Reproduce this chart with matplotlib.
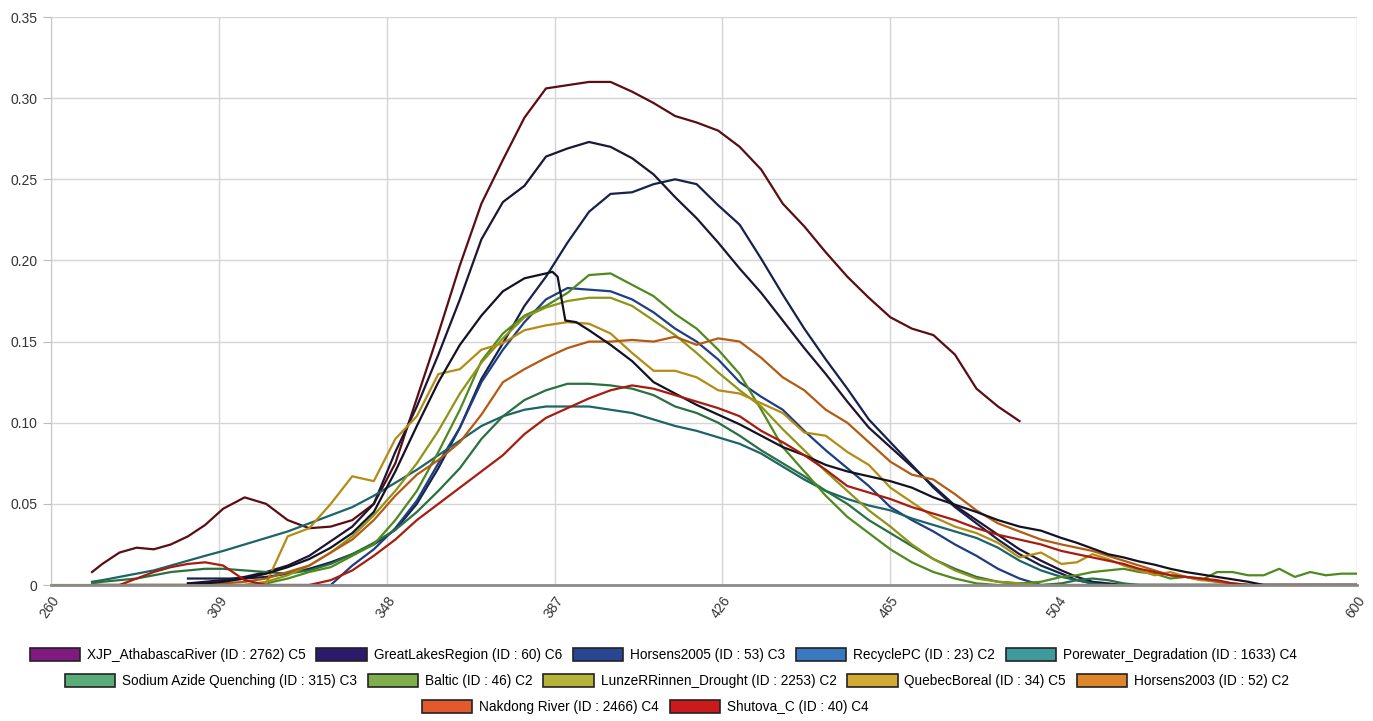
import numpy as np
import matplotlib
matplotlib.use("Agg")
import matplotlib.pyplot as plt
from matplotlib.patches import Patch

nan = np.nan

# wavelength grid shared by most series (nm)
wl = [260, 272] + list(range(275, 601, 5))

# x axis is categorical in the source: tick labels are not evenly spaced in nm
tick_nm = [260, 309, 348, 387, 426, 465, 504, 600]
tick_pos = [0, 1, 2, 3, 4, 5, 6, 7.78]

xjp = [nan, 0.008, 0.013, 0.020, 0.023, 0.022, 0.025, 0.030, 0.037, 0.047,
       0.054, 0.050, 0.040, 0.035, 0.036, 0.040, 0.050, 0.075, 0.115, 0.155,
       0.197, 0.235, 0.262, 0.288, 0.306, 0.308, 0.310, 0.310, 0.304, 0.297,
       0.289, 0.285, 0.280, 0.270, 0.256, 0.235, 0.221, 0.205, 0.190, 0.177,
       0.165, 0.158, 0.154, 0.142, 0.121, 0.110, 0.101] + [nan] * 21

great_lakes = [nan] * 7 + [
    0.001, 0.002, 0.003, 0.005, 0.008, 0.012, 0.018, 0.027, 0.036, 0.050,
    0.082, 0.110, 0.142, 0.176, 0.213, 0.236, 0.246, 0.264, 0.269, 0.273,
    0.270, 0.263, 0.253, 0.239, 0.226, 0.211, 0.195, 0.180, 0.163, 0.146,
    0.130, 0.113, 0.097, 0.085, 0.073, 0.061, 0.049, 0.040, 0.031, 0.022,
    0.015, 0.009, 0.005, 0.002, 0.001] + [0] * 16

horsens2005 = [nan] * 7 + [
    0.004, 0.004, 0.004, 0.004, 0.005, 0.007, 0.010, 0.014, 0.019, 0.025,
    0.034, 0.050, 0.072, 0.097, 0.127, 0.149, 0.172, 0.190, 0.211, 0.230,
    0.241, 0.242, 0.247, 0.250, 0.247, 0.234, 0.222, 0.201, 0.179, 0.158,
    0.139, 0.121, 0.102, 0.088, 0.074, 0.060, 0.048, 0.038, 0.028, 0.019,
    0.012, 0.007, 0.003, 0.001] + [0] * 17

recycle = [nan] + [0] * 13 + [
    0.000, 0.012, 0.022, 0.035, 0.052, 0.075, 0.097, 0.125, 0.145, 0.162,
    0.176, 0.183, 0.182, 0.181, 0.176, 0.168, 0.158, 0.150, 0.139, 0.125,
    0.116, 0.108, 0.095, 0.083, 0.072, 0.061, 0.048, 0.040, 0.033, 0.025,
    0.018, 0.010, 0.004] + [0] * 21

porewater = [nan,
    0.002, 0.003, 0.005, 0.007, 0.009, 0.012, 0.015, 0.018, 0.021, 0.025,
    0.029, 0.033, 0.038, 0.043, 0.048, 0.055, 0.063, 0.071, 0.080, 0.089,
    0.098, 0.104, 0.108, 0.110, 0.110, 0.110, 0.108, 0.106, 0.102, 0.098,
    0.095, 0.091, 0.087, 0.081, 0.073, 0.065, 0.058, 0.053, 0.049, 0.046,
    0.041, 0.037, 0.033, 0.029, 0.023, 0.015, 0.009, 0.005, 0.003, 0.001] + [0] * 17

sodium = [nan,
    0.001, 0.002, 0.003, 0.004, 0.006, 0.008, 0.009, 0.010, 0.010, 0.009,
    0.008, 0.007, 0.009, 0.013, 0.019, 0.026, 0.034, 0.045, 0.058, 0.072,
    0.090, 0.104, 0.114, 0.120, 0.124, 0.124, 0.123, 0.121, 0.117, 0.110,
    0.106, 0.100, 0.092, 0.083, 0.075, 0.067, 0.058, 0.050, 0.040, 0.032,
    0.024, 0.016, 0.010, 0.005, 0.002, 0.001, 0.000, 0.001, 0.003, 0.004,
    0.003, 0.001] + [0] * 15

baltic = [nan] + [0] * 10 + [
    0.001, 0.004, 0.008, 0.011, 0.018, 0.025, 0.040, 0.058, 0.082, 0.108,
    0.138, 0.155, 0.166, 0.172, 0.180, 0.191, 0.192, 0.185, 0.178, 0.167,
    0.158, 0.145, 0.130, 0.108, 0.085, 0.070, 0.055, 0.042, 0.032, 0.022,
    0.014, 0.008, 0.004, 0.001, 0.000, 0.001, 0.002, 0.005, 0.006, 0.008,
    0.009, 0.010, 0.008, 0.007, 0.004, 0.005, 0.003, 0.008, 0.008, 0.006,
    0.006, 0.010, 0.005, 0.008, 0.006, 0.007, 0.007]

lunze = [nan] + [0] * 10 + [
    0.002, 0.006, 0.012, 0.020, 0.030, 0.043, 0.058, 0.075, 0.095, 0.118,
    0.137, 0.152, 0.165, 0.171, 0.175, 0.177, 0.177, 0.172, 0.163, 0.154,
    0.143, 0.131, 0.120, 0.110, 0.096, 0.083, 0.070, 0.058, 0.046, 0.036,
    0.025, 0.016, 0.009, 0.004, 0.002, 0.001] + [0] * 21

quebec = [0] * 11 + [
    0.001, 0.030, 0.035, 0.050, 0.067, 0.064, 0.090, 0.104, 0.130, 0.133,
    0.145, 0.149, 0.157, 0.160, 0.162, 0.161, 0.155, 0.143, 0.132, 0.132,
    0.128, 0.120, 0.118, 0.112, 0.106, 0.094, 0.092, 0.082, 0.074, 0.060,
    0.051, 0.042, 0.036, 0.032, 0.026, 0.017, 0.020, 0.013, 0.014, 0.019,
    0.016, 0.012, 0.009, 0.006, 0.008, 0.005, 0.003, 0.002, 0.001] + [0] * 8

horsens2003 = [nan] + [0] * 8 + [
    0.001, 0.002, 0.004, 0.008, 0.012, 0.020, 0.028, 0.040, 0.055, 0.068,
    0.077, 0.088, 0.105, 0.125, 0.133, 0.140, 0.146, 0.150, 0.150, 0.151,
    0.150, 0.153, 0.148, 0.152, 0.150, 0.140, 0.128, 0.120, 0.108, 0.100,
    0.088, 0.076, 0.068, 0.065, 0.056, 0.046, 0.038, 0.033, 0.028, 0.025,
    0.023, 0.021, 0.018, 0.015, 0.012, 0.009, 0.006, 0.005, 0.004, 0.002,
    0.001] + [0] * 8

shutova = [nan] * 3 + [
    0.000, 0.004, 0.008, 0.011, 0.013, 0.014, 0.012, 0.003, 0.000, 0.000,
    0.000, 0.003, 0.009, 0.018, 0.028, 0.040, 0.050, 0.060, 0.070, 0.080,
    0.093, 0.103, 0.109, 0.115, 0.120, 0.123, 0.121, 0.117, 0.113, 0.109,
    0.104, 0.095, 0.088, 0.080, 0.071, 0.061, 0.057, 0.053, 0.048, 0.044,
    0.040, 0.035, 0.031, 0.028, 0.025, 0.021, 0.019, 0.017, 0.015, 0.013,
    0.010, 0.008, 0.006, 0.005, 0.004, 0.003, 0.001] + [0] * 8

# this one has a sharp step near 387 nm, so it keeps its own wavelengths
nakdong_wl = [300, 305, 310, 315, 320, 325, 330, 335, 340, 345, 350, 355,
              360, 365, 370, 375, 380, 385, 386.5, 387.7, 389.5, 392] + list(range(395, 601, 5))
nakdong = [0.001, 0.001, 0.002, 0.004, 0.007, 0.011, 0.016, 0.023, 0.032, 0.045,
           0.070, 0.098, 0.125, 0.148, 0.166, 0.181, 0.189, 0.192, 0.193, 0.190,
           0.163, 0.162, 0.157, 0.148, 0.138, 0.125, 0.118, 0.111, 0.105, 0.099,
           0.092, 0.085, 0.080, 0.074, 0.070, 0.067, 0.064, 0.060, 0.054, 0.0495,
           0.045, 0.040, 0.036, 0.0335, 0.029, 0.026, 0.0225, 0.019, 0.017, 0.0145,
           0.0125, 0.010, 0.008, 0.0065, 0.005, 0.0035, 0.002, 0, 0, 0, 0, 0, 0, 0]

labels = ["XJP_AthabascaRiver (ID : 2762) C5", "GreatLakesRegion (ID : 60) C6",
          "Horsens2005 (ID : 53) C3", "RecyclePC (ID : 23) C2",
          "Porewater_Degradation (ID : 1633) C4", "Sodium Azide Quenching (ID : 315) C3",
          "Baltic (ID : 46) C2", "LunzeRRinnen_Drought (ID : 2253) C2",
          "QuebecBoreal (ID : 34) C5", "Horsens2003 (ID : 52) C2",
          "Nakdong River (ID : 2466) C4", "Shutova_C (ID : 40) C4"]
legend_colors = ["#7e1a80", "#2c1a6a", "#2a4692", "#3a78bf", "#3f9a9c", "#5aac78",
                 "#7fae4c", "#b4b43a", "#d2aa34", "#e0862a", "#e25a2c", "#cc1a1a"]
line_colors = ["#5a0e14", "#1e1534", "#17214a", "#1d3f82", "#1c6468", "#2a7040",
               "#4f8a1e", "#8f9418", "#b48c14", "#b45a12", "#121222", "#a81c10"]

series = [xjp, great_lakes, horsens2005, recycle, porewater, sodium,
          baltic, lunze, quebec, horsens2003, None, shutova]

plt.rcParams['font.family'] = ['Liberation Sans', 'DejaVu Sans']

fig = plt.figure(figsize=(13.73, 7.21), dpi=100)
ax = fig.add_axes([0.0371, 0.1886, 0.9513, 0.7878])


def fwd(x):
    return np.interp(x, tick_nm, tick_pos)


def inv(p):
    return np.interp(p, tick_pos, tick_nm)


ax.set_xscale('function', functions=(fwd, inv))

for vals, col in zip(series, line_colors):
    if vals is None:
        ax.plot(nakdong_wl, nakdong, color=col, lw=1.6)
    else:
        ax.plot(wl, vals, color=col, lw=1.6)

ax.set_xlim(260, 600)
ax.set_ylim(0, 0.35)
ax.set_xticks(tick_nm)
ax.set_xticklabels([str(t) for t in tick_nm], rotation=55, ha='right', va='top',
                   rotation_mode='anchor')
ax.set_yticks(np.arange(0, 0.351, 0.05))
ax.set_yticklabels(['0'] + ['%.2f' % v for v in np.arange(0.05, 0.351, 0.05)])
ax.tick_params(axis='both', labelsize=10, colors='#333333')
ax.tick_params(axis='y', length=6, color='#bbbbbb')
ax.tick_params(axis='x', length=0, pad=6)
ax.grid(True, color='#d5d5d5', lw=1)
ax.set_axisbelow(True)
for s in ['top', 'right']:
    ax.spines[s].set_visible(False)
ax.spines['left'].set_color('#c8c8c8')
ax.spines['bottom'].set_color('#8a8a8a')
ax.spines['bottom'].set_linewidth(2)

handles = [Patch(facecolor=c, edgecolor='#222222', lw=1.2) for c in legend_colors]
rows = [(0, 5, 0.483, 0.0916), (5, 10, 0.493, 0.0555), (10, 12, 0.47, 0.0194)]
for a, b, cx, cy in rows:
    fig.legend(handles[a:b], labels[a:b], loc='center', bbox_to_anchor=(cx, cy),
               ncol=b - a, frameon=False, fontsize=9.8, handlelength=3.7,
               handleheight=1.15, handletextpad=0.5, columnspacing=0.8,
               borderpad=0, borderaxespad=0)

fig.savefig('out.png', dpi=100)
